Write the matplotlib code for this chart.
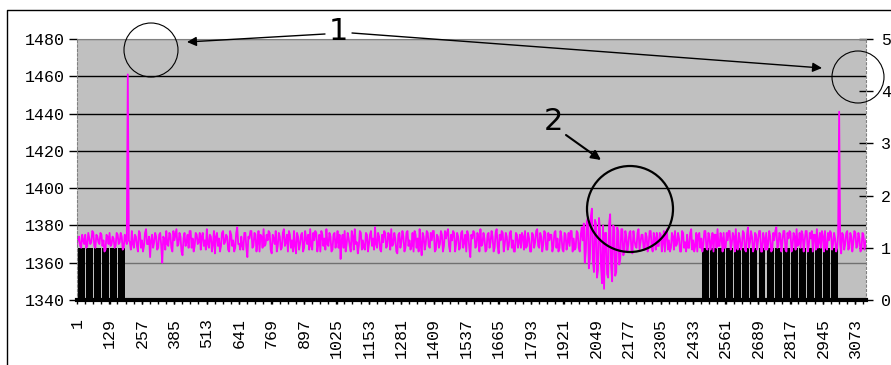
import numpy as np
import matplotlib.pyplot as plt
from matplotlib.patches import Circle
from matplotlib.ticker import MultipleLocator

# signal, one value every 4 samples starting at sample 1:
# level holds samples 1, 9, 17, ... and level_b the ones in between (5, 13, 21, ...)
step = 4
level = [
    1370, 1374, 1368, 1372, 1375, 1369, 1373, 1371, 1376, 1368, 1374, 1370, 1375, 1372, 1367, 1374, 1376, 1370, 1373, 1369,
    1375, 1371, 1374, 1368, 1373, 1461, 1371, 1377, 1368, 1374, 1366, 1376, 1372, 1369, 1378, 1370, 1363, 1375, 1371, 1374,
    1368, 1376, 1360, 1373, 1377, 1369, 1375, 1366, 1372, 1378, 1370, 1374, 1364, 1376, 1371, 1368, 1377, 1373, 1369, 1375,
    1371, 1367, 1376, 1372, 1378, 1368, 1374, 1370, 1365, 1376, 1373, 1369, 1377, 1371, 1374, 1366, 1375, 1372, 1368, 1379,
    1370, 1374, 1367, 1376, 1363, 1373, 1377, 1369, 1375, 1371, 1366, 1374, 1378, 1370, 1372, 1376, 1365, 1373, 1377, 1369,
    1374, 1368, 1378, 1371, 1366, 1375, 1372, 1377, 1365, 1374, 1370, 1376, 1368, 1373, 1375, 1378, 1367, 1372, 1376, 1370,
    1366, 1375, 1373, 1378, 1369, 1374, 1367, 1376, 1371, 1368, 1362, 1375, 1377, 1370, 1373, 1366, 1374, 1378, 1371, 1369,
    1376, 1372, 1367, 1375, 1370, 1377, 1373, 1379, 1368, 1374, 1366, 1371, 1376, 1369, 1375, 1378, 1370, 1373, 1365, 1376,
    1371, 1374, 1368, 1377, 1372, 1369, 1366, 1375, 1373, 1378, 1364, 1374, 1370, 1376, 1368, 1372, 1377, 1367, 1374, 1370,
    1375, 1369, 1373, 1378, 1366, 1372, 1376, 1370, 1374, 1368, 1377, 1371, 1366, 1375, 1363, 1373, 1376, 1369, 1374, 1378,
    1370, 1373, 1367, 1376, 1371, 1374, 1368, 1378, 1365, 1372, 1376, 1370, 1374, 1369, 1377, 1372, 1366, 1375, 1371, 1368,
    1374, 1377, 1369, 1373, 1366, 1375, 1371, 1378, 1368, 1374, 1370, 1376, 1367, 1372, 1375, 1369, 1377, 1373, 1368, 1374,
    1366, 1375, 1371, 1369, 1377, 1373, 1368, 1376, 1366, 1379, 1381, 1366, 1384, 1362, 1389, 1355, 1381, 1356, 1378, 1349,
    1346, 1376, 1352, 1386, 1350, 1379, 1355, 1377, 1362, 1378, 1366, 1374, 1370, 1377, 1365, 1372, 1368, 1378, 1371, 1375,
    1367, 1374, 1370, 1377, 1366, 1373, 1376, 1369, 1375, 1371, 1366, 1378, 1372, 1368, 1374, 1377, 1370, 1373, 1366, 1376,
    1371, 1375, 1368, 1378, 1372, 1369, 1366, 1376, 1373, 1370, 1377, 1367, 1374, 1371, 1366, 1375, 1378, 1369, 1373, 1376,
    1368, 1372, 1377, 1370, 1374, 1378, 1367, 1373, 1369, 1376, 1366, 1379, 1371, 1374, 1368, 1375, 1372, 1377, 1366, 1373,
    1376, 1370, 1374, 1367, 1372, 1379, 1369, 1375, 1371, 1377, 1366, 1373, 1376, 1369, 1374, 1378, 1370, 1368, 1375, 1372,
    1377, 1369, 1373, 1366, 1375, 1378, 1371, 1368, 1374, 1377, 1367, 1372, 1376, 1370, 1373, 1368, 1441, 1365, 1375, 1370,
    1377, 1368, 1374, 1371, 1376, 1369, 1373, 1367, 1375, 1370,
]
level_b = [
    1373, 1369, 1375, 1370, 1368, 1376, 1370, 1377, 1369, 1375, 1371, 1376, 1369, 1366, 1375, 1370, 1369, 1374, 1368, 1376,
    1370, 1376, 1367, 1375, 1370, 1372, 1367, 1370, 1375, 1369, 1377, 1368, 1366, 1376, 1370, 1374, 1372, 1368, 1376, 1367,
    1375, 1369, 1374, 1367, 1370, 1376, 1368, 1377, 1375, 1369, 1376, 1366, 1373, 1369, 1375, 1377, 1368, 1366, 1376, 1370,
    1376, 1374, 1369, 1367, 1370, 1375, 1366, 1377, 1374, 1369, 1366, 1376, 1370, 1375, 1367, 1377, 1369, 1366, 1376, 1370,
    1367, 1369, 1376, 1368, 1374, 1377, 1368, 1376, 1366, 1377, 1375, 1368, 1369, 1375, 1377, 1367, 1375, 1370, 1366, 1376,
    1367, 1376, 1369, 1375, 1377, 1368, 1366, 1369, 1376, 1367, 1375, 1366, 1377, 1370, 1367, 1369, 1376, 1377, 1366, 1375,
    1377, 1369, 1367, 1370, 1376, 1366, 1375, 1368, 1377, 1375, 1372, 1368, 1366, 1376, 1369, 1377, 1367, 1370, 1365, 1377,
    1367, 1368, 1376, 1366, 1375, 1369, 1367, 1370, 1376, 1367, 1375, 1377, 1368, 1376, 1367, 1369, 1376, 1366, 1375, 1368,
    1377, 1366, 1376, 1369, 1367, 1376, 1377, 1368, 1366, 1370, 1376, 1367, 1377, 1369, 1376, 1377, 1366, 1375, 1368, 1377,
    1366, 1377, 1376, 1369, 1375, 1377, 1366, 1376, 1367, 1376, 1368, 1375, 1377, 1368, 1375, 1377, 1368, 1376, 1366, 1369,
    1376, 1366, 1375, 1368, 1377, 1366, 1376, 1369, 1375, 1377, 1366, 1376, 1367, 1376, 1368, 1366, 1376, 1368, 1375, 1376,
    1367, 1368, 1376, 1366, 1376, 1368, 1377, 1369, 1376, 1366, 1377, 1367, 1376, 1375, 1366, 1376, 1368, 1366, 1377, 1367,
    1376, 1367, 1376, 1377, 1366, 1367, 1377, 1368, 1375, 1372, 1360, 1382, 1357, 1385, 1361, 1383, 1352, 1384, 1358, 1380,
    1376, 1354, 1381, 1358, 1380, 1353, 1379, 1359, 1378, 1364, 1377, 1366, 1376, 1367, 1377, 1369, 1376, 1367, 1375, 1368,
    1376, 1366, 1377, 1368, 1376, 1367, 1369, 1376, 1366, 1377, 1375, 1367, 1366, 1376, 1367, 1369, 1376, 1366, 1377, 1368,
    1366, 1368, 1376, 1367, 1366, 1376, 1375, 1368, 1366, 1377, 1368, 1376, 1367, 1376, 1375, 1368, 1369, 1376, 1366, 1368,
    1376, 1377, 1367, 1376, 1366, 1368, 1376, 1367, 1377, 1367, 1375, 1368, 1377, 1366, 1376, 1367, 1377, 1366, 1376, 1367,
    1367, 1377, 1366, 1376, 1377, 1368, 1376, 1366, 1377, 1367, 1376, 1377, 1366, 1376, 1367, 1369, 1376, 1377, 1366, 1377,
    1366, 1376, 1377, 1375, 1367, 1368, 1376, 1377, 1366, 1368, 1376, 1377, 1367, 1376, 1366, 1375, 1370, 1376, 1367, 1376,
    1367, 1376, 1366, 1377, 1368, 1376, 1366, 1376, 1367, 1373,
]

# on/off flag, one value per block of 32 samples (right axis)
block = 32
pulse = [
    1, 1, 1, 1, 1, 1,
    0, 0, 0, 0, 0, 0, 0, 0, 0, 0, 0, 0, 0, 0, 0, 0, 0, 0, 0, 0, 0, 0, 0, 0,
    0, 0, 0, 0, 0, 0, 0, 0, 0, 0, 0, 0, 0, 0, 0, 0, 0, 0, 0, 0, 0, 0, 0, 0,
    0, 0, 0, 0, 0, 0, 0, 0, 0, 0, 0, 0, 0, 0, 0, 0, 0, 0, 0, 0, 0, 0, 0,
    1, 1, 1, 1, 1, 1, 1, 1, 1, 1, 1, 1, 1, 1, 1, 1, 1,
    0, 0, 0,
]

x_labels = [1, 129, 257, 385, 513, 641, 769, 897, 1025, 1153, 1281, 1409, 1537,
            1665, 1793, 1921, 2049, 2177, 2305, 2433, 2561, 2689, 2817, 2945, 3073]
left_ticks = [1340, 1360, 1380, 1400, 1420, 1440, 1460, 1480]
right_ticks = [0, 1, 2, 3, 4, 5]

mono = 'Liberation Mono'
W, H = 891, 365

samples = [v for pair in zip(level, level_b) for v in pair]

fig = plt.figure(figsize=(W / 100, H / 100), dpi=100)
ax = fig.add_axes([77 / W, 65 / H, 789 / W, 261 / H])
ax2 = ax.twinx()

ax.set_facecolor('#c0c0c0')
ax.set_xlim(0.5, 3115)
ax.set_ylim(1340, 1480)
ax2.set_ylim(0, 5)

ax.set_yticks(left_ticks)
ax.grid(axis='y', color='black', lw=1)
for g, v in zip(ax.get_ygridlines(), left_ticks):
    if v in (1360, 1480):
        g.set_color('#707070')
ax.set_axisbelow(True)

# flag bars, then the signal on top of them
bx = np.arange(len(pulse)) * block + 1 + (block - 1) / 2
ax2.bar(bx, pulse, width=block * 0.86, color='black', lw=0, zorder=1)
xs = np.arange(len(samples)) * step + 1
ax2.plot(xs, samples, color='#ff00ff', lw=1.3, transform=ax.transData, zorder=2)

for s in ax.spines.values():
    s.set_visible(False)
ax2.spines['bottom'].set_color('black')
ax2.spines['bottom'].set_linewidth(3)
ax2.spines['top'].set_color('#808080')
for side in ('left', 'right'):
    ax2.spines[side].set_color('#808080')
    ax2.spines[side].set_linestyle((0, (2, 2)))

ax.set_xticks(x_labels)
ax.set_xticklabels([str(v) for v in x_labels], rotation=90, family=mono, fontsize=12)
ax.xaxis.set_minor_locator(MultipleLocator(32))
ax.tick_params(axis='x', which='both', length=3, width=1, pad=10, color='black')
ax.tick_params(axis='y', length=6, width=1, pad=3, labelsize=12)
for t in ax.get_yticklabels():
    t.set_family(mono)

ax2.set_yticks(right_ticks)
ax2.tick_params(axis='y', direction='inout', length=10, width=1, pad=6, labelsize=12)
for t in ax2.get_yticklabels():
    t.set_family(mono)

# hand-drawn notes over the whole picture, in pixel coordinates
ov = fig.add_axes([0, 0, 1, 1])
ov.set_xlim(0, W)
ov.set_ylim(H, 0)
ov.axis('off')
ov.patch.set_visible(False)

ov.plot([7, 7, W], [H, 10, 10], color='black', lw=1)

ov.text(338, 31, '1', fontsize=22, ha='center', va='center')
ov.text(553, 122, '2', fontsize=22, ha='center', va='center')

arrow = dict(arrowstyle='-|>', color='black', lw=1, mutation_scale=14,
             shrinkA=0, shrinkB=0)
ov.annotate('', xy=(187, 42), xytext=(325, 34), arrowprops=arrow)
ov.annotate('', xy=(822, 68), xytext=(352, 33), arrowprops=arrow)
ov.annotate('', xy=(601, 160), xytext=(566, 135), arrowprops=dict(arrow, lw=1.5))

ov.add_patch(Circle((151, 50), 27, fill=False, color='black', lw=0.8))
ov.add_patch(Circle((858, 77), 26, fill=False, color='black', lw=0.8))
ov.add_patch(Circle((630, 209), 43, fill=False, color='black', lw=1.6))

fig.savefig('out.png', dpi=100)
